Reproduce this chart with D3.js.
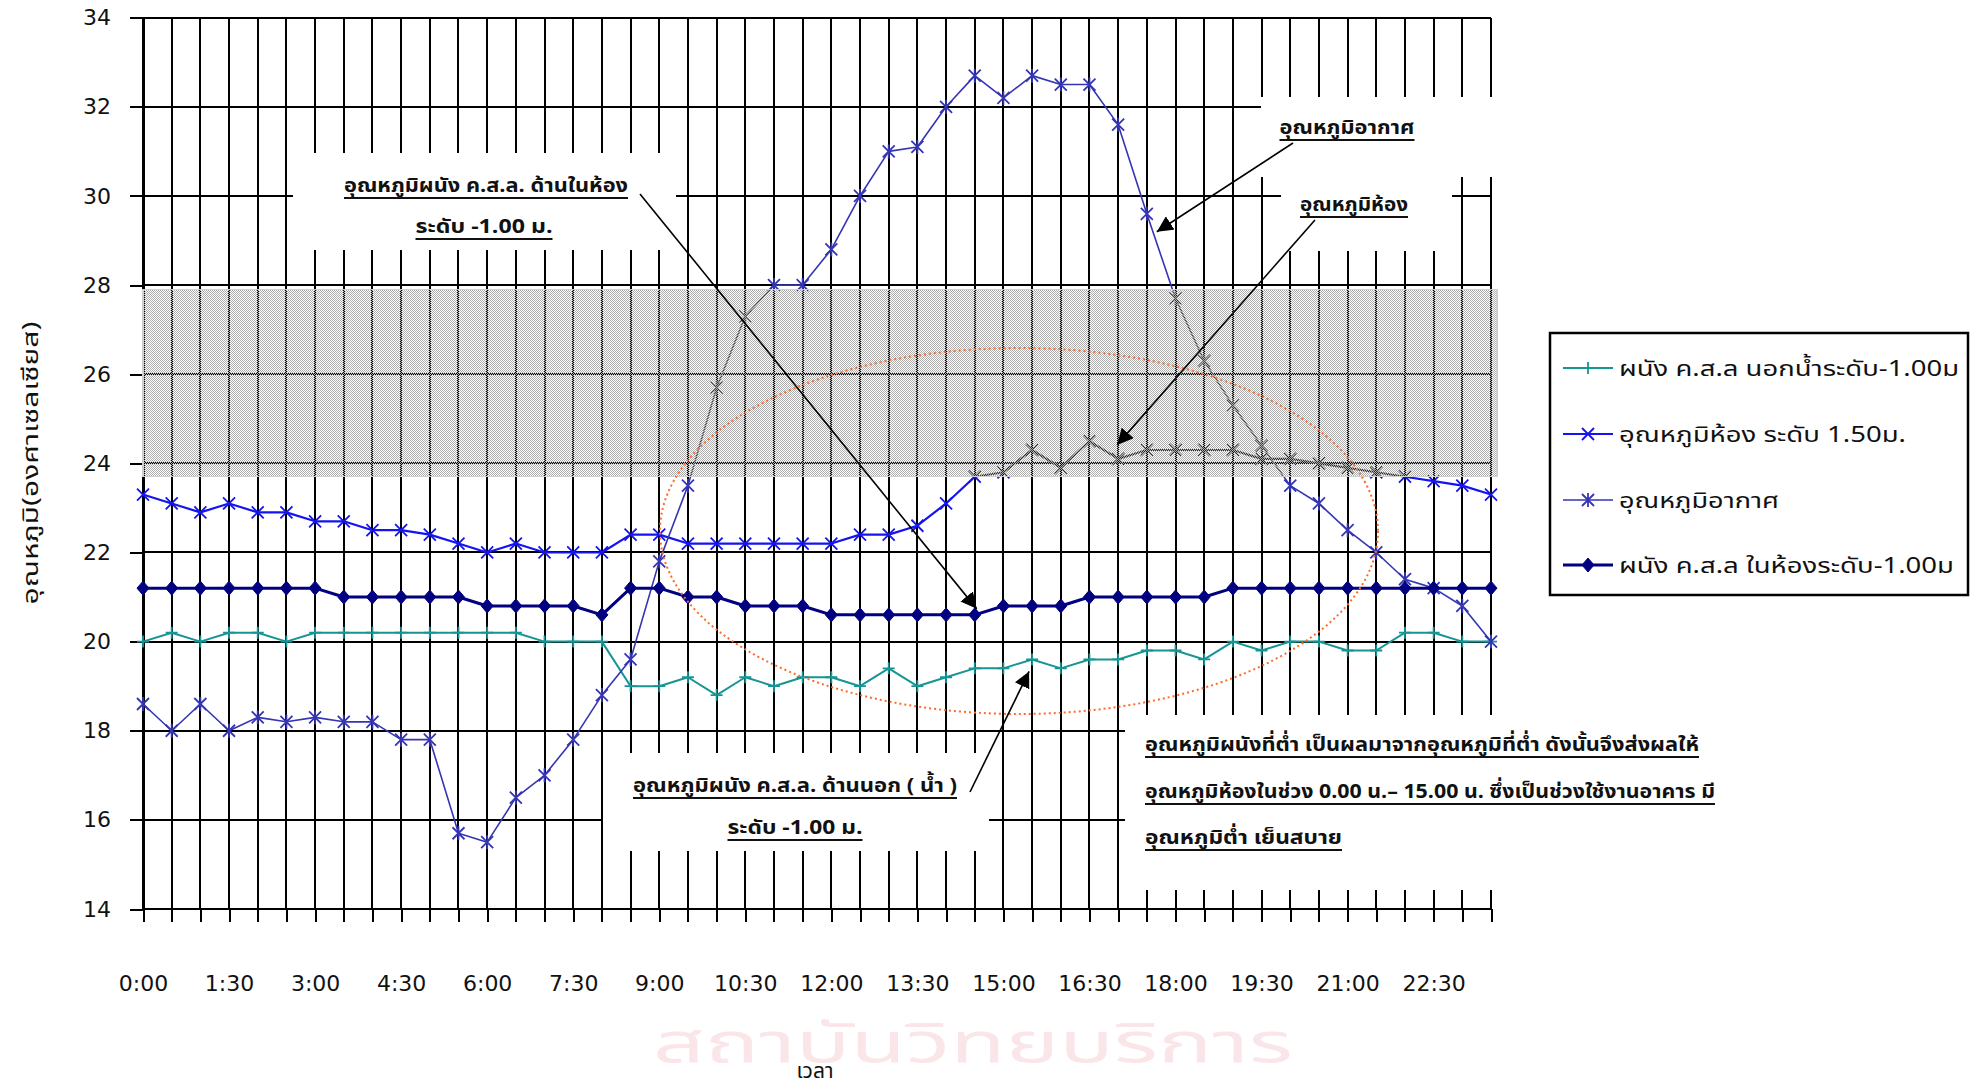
<!DOCTYPE html>
<html>
<head>
<meta charset="utf-8">
<script src="https://cdn.jsdelivr.net/npm/d3@7"></script>
<style>
  html, body { margin: 0; padding: 0; background: #ffffff; }
  svg { display: block; }
</style>
</head>
<body>
<svg id="chart" width="1982" height="1090"></svg>
<script>
// ---- data -------------------------------------------------------------
const times = ["0:00","0:30","1:00","1:30","2:00","2:30","3:00","3:30","4:00","4:30",
  "5:00","5:30","6:00","6:30","7:00","7:30","8:00","8:30","9:00","9:30",
  "10:00","10:30","11:00","11:30","12:00","12:30","13:00","13:30","14:00","14:30",
  "15:00","15:30","16:00","16:30","17:00","17:30","18:00","18:30","19:00","19:30",
  "20:00","20:30","21:00","21:30","22:00","22:30","23:00","23:30"];

// outer face of the RC wall (water side), level -1.00 m
const outerWall = [20.0,20.2,20.0,20.2,20.2,20.0,20.2,20.2,20.2,20.2,
  20.2,20.2,20.2,20.2,20.0,20.0,20.0,19.0,19.0,19.2,
  18.8,19.2,19.0,19.2,19.2,19.0,19.4,19.0,19.2,19.4,
  19.4,19.6,19.4,19.6,19.6,19.8,19.8,19.6,20.0,19.8,
  20.0,20.0,19.8,19.8,20.2,20.2,20.0,20.0];

// room air at 1.50 m
const roomTemp = [23.3,23.1,22.9,23.1,22.9,22.9,22.7,22.7,22.5,22.5,
  22.4,22.2,22.0,22.2,22.0,22.0,22.0,22.4,22.4,22.2,
  22.2,22.2,22.2,22.2,22.2,22.4,22.4,22.6,23.1,23.7,
  23.8,24.3,23.9,24.5,24.1,24.3,24.3,24.3,24.3,24.1,
  24.1,24.0,23.9,23.8,23.7,23.6,23.5,23.3];

// outdoor air
const airTemp = [18.6,18.0,18.6,18.0,18.3,18.2,18.3,18.2,18.2,17.8,
  17.8,15.7,15.5,16.5,17.0,17.8,18.8,19.6,21.8,23.5,
  25.7,27.3,28.0,28.0,28.8,30.0,31.0,31.1,32.0,32.7,
  32.2,32.7,32.5,32.5,31.6,29.6,27.7,26.3,25.3,24.4,
  23.5,23.1,22.5,22.0,21.4,21.2,20.8,20.0];

// inner face of the RC wall (room side), level -1.00 m
const innerWall = [21.2,21.2,21.2,21.2,21.2,21.2,21.2,21.0,21.0,21.0,
  21.0,21.0,20.8,20.8,20.8,20.8,20.6,21.2,21.2,21.0,
  21.0,20.8,20.8,20.8,20.6,20.6,20.6,20.6,20.6,20.6,
  20.8,20.8,20.8,21.0,21.0,21.0,21.0,21.0,21.2,21.2,
  21.2,21.2,21.2,21.2,21.2,21.2,21.2,21.2];

const seriesNames = [
  "ผนัง ค.ส.ล นอกน้ำระดับ-1.00ม",
  "อุณหภูมิห้อง ระดับ 1.50ม.",
  "อุณหภูมิอากาศ",
  "ผนัง ค.ส.ล ในห้องระดับ-1.00ม"
];
const yTicks = [14,16,18,20,22,24,26,28,30,32,34];
const comfortZone = [23.7, 27.9];   // shaded comfort band (°C)

// ---- setup ------------------------------------------------------------
const THAI = '"Noto Sans Thai","Tahoma","Loma","Garuda","Waree","Sarabun","Norasi","DejaVu Sans",sans-serif';
const NUM = '"DejaVu Sans","Liberation Sans",sans-serif';

const svg = d3.select("#chart");
const x = d3.scalePoint().domain(times).range([143, 1491]);
const y = d3.scaleLinear().domain([14, 34]).range([909, 17.7]);
const px = d => Math.round(x(d));
const py = v => Math.round(y(v));

const defs = svg.append("defs");
const pat = defs.append("pattern").attr("id", "band50")
  .attr("width", 2).attr("height", 2).attr("patternUnits", "userSpaceOnUse");
pat.append("rect").attr("x", 0).attr("y", 0).attr("width", 1).attr("height", 1).attr("fill", "#adadad");
pat.append("rect").attr("x", 1).attr("y", 1).attr("width", 1).attr("height", 1).attr("fill", "#adadad");

defs.append("marker").attr("id", "arrowHead")
  .attr("viewBox", "0 0 10 10").attr("refX", 10).attr("refY", 5)
  .attr("markerWidth", 16).attr("markerHeight", 16).attr("markerUnits", "userSpaceOnUse")
  .attr("orient", "auto")
  .append("path").attr("d", "M0,0L10,5L0,10Z").attr("fill", "#000");

// faint institution stamp behind the chart
svg.append("text")
  .attr("x", 973).attr("y", 1062).attr("text-anchor", "middle")
  .attr("font-family", THAI).attr("font-size", 56).attr("fill", "#fae6e8")
  .attr("textLength", 640).attr("lengthAdjust", "spacingAndGlyphs")
  .text("สถาบันวิทยบริการ");

// ---- grid -------------------------------------------------------------
const grid = svg.append("g").attr("shape-rendering", "crispEdges")
  .attr("stroke", "#000").attr("stroke-width", 2);
grid.selectAll("line.h").data(yTicks).join("line").attr("class", "h")
  .attr("x1", 143).attr("x2", 1491)
  .attr("y1", d => py(d)).attr("y2", d => py(d));
grid.selectAll("line.v").data(times).join("line").attr("class", "v")
  .attr("x1", d => px(d)).attr("x2", d => px(d))
  .attr("y1", py(34)).attr("y2", py(14));

// axes
const yAxis = svg.append("g").attr("transform", "translate(143,0)")
  .call(d3.axisLeft(y).tickValues(yTicks).tickSize(13).tickPadding(19).tickFormat(d3.format("d")));
const xAxis = svg.append("g").attr("transform", `translate(0,${py(14)})`)
  .call(d3.axisBottom(x).tickSize(13).tickPadding(53).tickFormat((d, i) => i % 3 === 0 ? d : ""));
[yAxis, xAxis].forEach(a => {
  a.attr("shape-rendering", "crispEdges");
  a.selectAll("line").attr("stroke", "#000").attr("stroke-width", 2);
  a.select(".domain").attr("stroke", "#000").attr("stroke-width", 2);
  a.selectAll("text").attr("font-family", NUM).attr("font-size", 22).attr("fill", "#111");
});
xAxis.select(".domain").remove();

// white text boxes sitting on the grid
const boxes = [
  [293, 153, 383, 97],
  [1261, 97, 240, 80],
  [1281, 176, 171, 75],
  [603, 753, 386, 98],
  [1125, 715, 610, 175]
];
svg.append("g").selectAll("rect").data(boxes).join("rect")
  .attr("x", d => d[0]).attr("y", d => d[1]).attr("width", d => d[2]).attr("height", d => d[3])
  .attr("fill", "#fff");

// ---- series -----------------------------------------------------------
const S = 6;
const markers = {
  plus: `M0,${-S}V${S}M${-S},0H${S}`,
  cross: `M${-S},${-S}L${S},${S}M${-S},${S}L${S},${-S}`,
  star: `M${-S},${-S}L${S},${S}M${-S},${S}L${S},${-S}M0,${-S - 1}V${S + 1}`,
  diamond: "M0,-7L6,0L0,7L-6,0Z"
};
const series = [
  { name: seriesNames[0], values: outerWall, color: "#179494", width: 2, marker: "plus", fill: false },
  { name: seriesNames[1], values: roomTemp, color: "#1414f0", width: 2.2, marker: "cross", fill: false },
  { name: seriesNames[2], values: airTemp, color: "#3535b4", width: 1.6, marker: "star", fill: false },
  { name: seriesNames[3], values: innerWall, color: "#000080", width: 3, marker: "diamond", fill: true }
];
const line = d3.line().x((d, i) => x(times[i])).y(d => y(d));
const sg = svg.append("g").selectAll("g").data(series).join("g");
sg.append("path").attr("d", d => line(d.values)).attr("fill", "none")
  .attr("stroke", d => d.color).attr("stroke-width", d => d.width).attr("stroke-linejoin", "round");
sg.each(function (s) {
  d3.select(this).selectAll("path.m").data(s.values).join("path").attr("class", "m")
    .attr("transform", (d, i) => `translate(${x(times[i])},${y(d)})`)
    .attr("d", markers[s.marker])
    .attr("fill", s.fill ? s.color : "none")
    .attr("stroke", s.color).attr("stroke-width", s.marker === "diamond" ? 1 : 1.8);
});

// ---- comfort band (50% pattern laid over lines and grid) --------------
svg.append("rect")
  .attr("x", 143).attr("width", 1497 - 143)
  .attr("y", y(comfortZone[1])).attr("height", y(comfortZone[0]) - y(comfortZone[1]))
  .attr("fill", "url(#band50)").attr("stroke", "#cfcfcf").attr("stroke-width", 1.5)
  .attr("shape-rendering", "crispEdges");

// dotted orange outline around the daytime room readings
svg.append("ellipse")
  .attr("cx", 1019).attr("cy", 531).attr("rx", 359).attr("ry", 183)
  .attr("fill", "none").attr("stroke", "#ff6a2a").attr("stroke-width", 2)
  .attr("stroke-dasharray", "2,3");

// ---- annotations ------------------------------------------------------
function note(tx, ty, str, anchor, targetW) {
  const t = svg.append("text").attr("x", tx).attr("y", ty)
    .attr("text-anchor", anchor).attr("font-family", THAI).attr("font-size", 20)
    .attr("font-weight", "bold").attr("fill", "#111").text(str);
  if (targetW) t.attr("textLength", targetW).attr("lengthAdjust", "spacingAndGlyphs");
  const w = targetW || t.node().getComputedTextLength();
  const x0 = anchor === "middle" ? tx - w / 2 : tx;
  svg.append("line").attr("x1", x0).attr("x2", x0 + w).attr("y1", ty + 6).attr("y2", ty + 6)
    .attr("stroke", "#111").attr("stroke-width", 2);
}
function arrow(x1, y1, x2, y2) {
  svg.append("line").attr("x1", x1).attr("y1", y1).attr("x2", x2).attr("y2", y2)
    .attr("stroke", "#000").attr("stroke-width", 1.6).attr("marker-end", "url(#arrowHead)");
}

note(486, 192, "อุณหภูมิผนัง ค.ส.ล. ด้านในห้อง", "middle", 284);
note(484, 233, "ระดับ  -1.00 ม.", "middle", 137);
arrow(640, 194, x(times[29]) + 2, y(innerWall[29]) - 6);

note(1347, 134, "อุณหภูมิอากาศ", "middle", 135);
arrow(1293, 143, x(times[35]) + 10, y(airTemp[35]) + 18);

note(1354, 211, "อุณหภูมิห้อง", "middle", 108);
arrow(1315, 220, x(times[34]) - 1, y(roomTemp[34]) - 14);

note(795, 792, "อุณหภูมิผนัง ค.ส.ล. ด้านนอก ( น้ำ )", "middle", 324);
note(795, 834, "ระดับ  -1.00 ม.", "middle", 135);
arrow(970, 792, x(times[31]) - 3, y(outerWall[31]) + 12);

note(1145, 751, "อุณหภูมิผนังที่ต่ำ  เป็นผลมาจากอุณหภูมิที่ต่ำ  ดังนั้นจึงส่งผลให้", "start", 554);
note(1145, 798, "อุณหภูมิห้องในช่วง 0.00 น.– 15.00 น. ซึ่งเป็นช่วงใช้งานอาคาร  มี", "start", 570);
note(1145, 844, "อุณหภูมิต่ำ  เย็นสบาย", "start", 197);

// ---- axis titles ------------------------------------------------------
svg.append("text").attr("transform", "translate(38,463) rotate(-90)")
  .attr("text-anchor", "middle").attr("font-family", THAI).attr("font-size", 21)
  .attr("fill", "#111").attr("textLength", 283).attr("lengthAdjust", "spacingAndGlyphs")
  .text("อุณหภูมิ(องศาเซลเซียส)");
svg.append("text").attr("x", 815).attr("y", 1078).attr("text-anchor", "middle")
  .attr("font-family", THAI).attr("font-size", 21).attr("fill", "#111")
  .text("เวลา");

// ---- legend -----------------------------------------------------------
const lg = svg.append("g");
lg.append("rect").attr("x", 1550).attr("y", 333).attr("width", 418).attr("height", 262)
  .attr("fill", "#fff").attr("stroke", "#000").attr("stroke-width", 2.5);
const legendY = [368, 434, 500, 565];
const legendW = [340, 287, 160, 335];
series.forEach((s, i) => {
  const g = lg.append("g").attr("transform", `translate(0,${legendY[i]})`);
  g.append("line").attr("x1", 1563).attr("x2", 1613).attr("y1", 0).attr("y2", 0)
    .attr("stroke", s.color).attr("stroke-width", s.width);
  g.append("path").attr("transform", "translate(1588,0)").attr("d", markers[s.marker])
    .attr("fill", s.fill ? s.color : "none").attr("stroke", s.color)
    .attr("stroke-width", s.marker === "diamond" ? 1 : 1.8);
  g.append("text").attr("x", 1619).attr("y", 8).attr("font-family", THAI).attr("font-size", 22)
    .attr("fill", "#111").attr("textLength", legendW[i]).attr("lengthAdjust", "spacingAndGlyphs")
    .text(s.name);
});
</script>
</body>
</html>
